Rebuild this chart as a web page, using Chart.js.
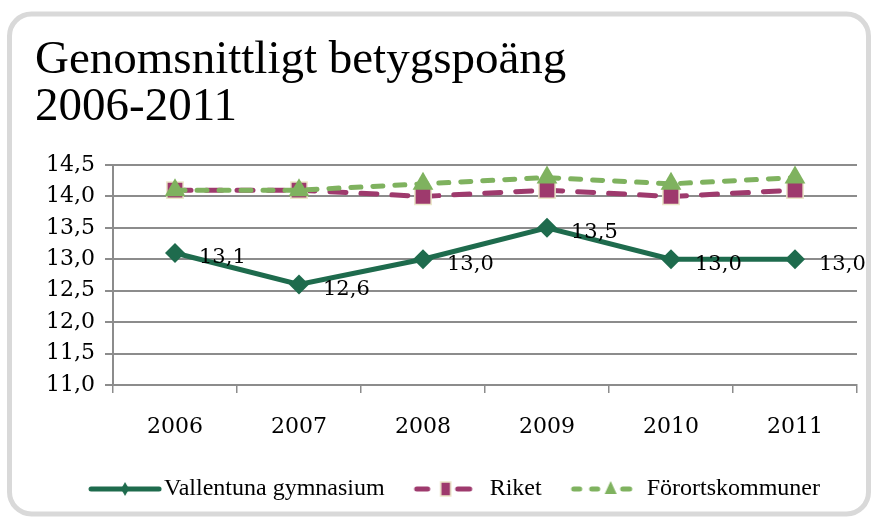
<!DOCTYPE html>
<html>
<head>
<meta charset="utf-8">
<script src="https://cdn.jsdelivr.net/npm/chart.js@4.4.1/dist/chart.umd.min.js"></script>
<style>
  html, body { margin: 0; padding: 0; background: #fff; }
  #wrap { width: 876px; height: 520px; position: relative; }
</style>
</head>
<body>
<div id="wrap"><canvas id="myChart" width="876" height="520"></canvas></div>
<script>
// data
const years = ['2006', '2007', '2008', '2009', '2010', '2011'];
const vallentuna = [13.1, 12.6, 13.0, 13.5, 13.0, 13.0];
const riket = [14.1, 14.1, 14.0, 14.1, 14.0, 14.1];
const fororts = [14.1, 14.1, 14.2, 14.3, 14.2, 14.3];
const seriesNames = ['Vallentuna gymnasium', 'Riket', 'Förortskommuner'];
const titleLines = ['Genomsnittligt betygspoäng', '2006-2011'];

const darkGreen = '#1e6b4d';
const purple = '#9e3a6d';
const lightGreen = '#7fb25f';
const markerEdge = '#ebe8c9';
const serif = "'DejaVu Serif', serif";

const fmt = v => v.toFixed(1).replace('.', ',');

// legend symbol canvases (line + marker); box is 80 wide, canvas 100,
// so x=10 in the canvas is the start of the legend box
function legendSymbol(kind) {
    const c = document.createElement('canvas');
    c.width = 100; c.height = 18;
    const g = c.getContext('2d');
    const cy = 9;
    g.lineCap = 'round';
    g.lineWidth = 5;
    if (kind === 0) {
        g.strokeStyle = darkGreen;
        g.beginPath(); g.moveTo(29, cy); g.lineTo(97, cy); g.stroke();
        g.fillStyle = darkGreen;
        g.beginPath(); g.moveTo(63, cy - 7); g.lineTo(67, cy); g.lineTo(63, cy + 7); g.lineTo(59, cy); g.closePath(); g.fill();
    } else if (kind === 1) {
        g.strokeStyle = purple;
        g.beginPath(); g.moveTo(29, cy); g.lineTo(40, cy); g.stroke();
        g.beginPath(); g.moveTo(70, cy); g.lineTo(82, cy); g.stroke();
        g.fillStyle = purple;
        g.fillRect(53, cy - 7, 10, 14);
        g.strokeStyle = markerEdge; g.lineWidth = 1.5;
        g.strokeRect(53, cy - 7, 10, 14);
    } else {
        g.strokeStyle = lightGreen;
        g.beginPath(); g.moveTo(29, cy); g.lineTo(35, cy); g.stroke();
        g.beginPath(); g.moveTo(47, cy); g.lineTo(53, cy); g.stroke();
        g.beginPath(); g.moveTo(78, cy); g.lineTo(85, cy); g.stroke();
        g.fillStyle = lightGreen;
        g.beginPath(); g.moveTo(66, cy - 8); g.lineTo(72, cy + 5); g.lineTo(60, cy + 5); g.closePath(); g.fill();
    }
    return c;
}
const symbols = [legendSymbol(0), legendSymbol(1), legendSymbol(2)];

// rounded grey frame around the whole chart
const framePlugin = {
    id: 'frame',
    beforeDraw(chart) {
        const ctx = chart.ctx;
        ctx.save();
        ctx.strokeStyle = '#d9d9d9';
        ctx.lineWidth = 5;
        ctx.beginPath();
        ctx.roundRect(9.5, 14, 859, 500, 22);
        ctx.stroke();
        ctx.restore();
    }
};

// value labels for the first series only
const labelPlugin = {
    id: 'valueLabels',
    afterDatasetsDraw(chart) {
        const ctx = chart.ctx;
        const meta = chart.getDatasetMeta(0);
        ctx.save();
        ctx.font = '21px ' + serif;
        ctx.fillStyle = '#000';
        ctx.textAlign = 'left';
        ctx.textBaseline = 'middle';
        meta.data.forEach((pt, i) => {
            ctx.fillText(fmt(vallentuna[i]), pt.x + 24, pt.y + 5);
        });
        ctx.restore();
    }
};

const ctx = document.getElementById('myChart');
new Chart(ctx, {
    type: 'line',
    data: {
        labels: years,
        datasets: [{
            label: seriesNames[0],
            data: vallentuna,
            borderColor: darkGreen,
            backgroundColor: darkGreen,
            borderWidth: 5,
            pointStyle: 'rectRot',
            pointRadius: 10,
            pointBorderWidth: 0,
            order: 0
        }, {
            label: seriesNames[1],
            data: riket,
            borderColor: purple,
            backgroundColor: purple,
            borderWidth: 5,
            borderDash: [16, 15],
            borderCapStyle: 'round',
            pointStyle: 'rect',
            pointRadius: 11.5,
            pointBorderColor: markerEdge,
            pointBorderWidth: 1.5,
            order: 2
        }, {
            label: seriesNames[2],
            data: fororts,
            borderColor: lightGreen,
            backgroundColor: lightGreen,
            borderWidth: 5,
            borderDash: [10, 12],
            borderCapStyle: 'round',
            pointStyle: 'triangle',
            pointRadius: 12,
            pointBorderColor: lightGreen,
            pointBorderWidth: 0,
            order: 1
        }]
    },
    options: {
        responsive: false,
        animation: false,
        layout: { padding: { left: 35, right: 19, top: 0, bottom: 9 } },
        plugins: {
            title: {
                display: true,
                text: titleLines,
                align: 'start',
                color: '#000',
                font: { family: "'Liberation Serif', serif", size: 47, weight: 'normal', lineHeight: 1.0 },
                padding: { top: 37, bottom: 34 }
            },
            legend: {
                position: 'bottom',
                labels: {
                    usePointStyle: true,
                    pointStyleWidth: 80,
                    padding: 13,
                    color: '#000',
                    font: { family: "'Liberation Serif', serif", size: 24 },
                    generateLabels: chart => chart.data.datasets.map((ds, i) => ({
                        text: ds.label,
                        pointStyle: symbols[i],
                        fillStyle: ds.borderColor,
                        strokeStyle: ds.borderColor,
                        lineWidth: 0,
                        hidden: false,
                        datasetIndex: i,
                        fontColor: '#000'
                    }))
                }
            },
            tooltip: { enabled: false }
        },
        scales: {
            x: {
                offset: true,
                grid: { offset: true, drawOnChartArea: false, drawTicks: true, tickLength: 8, color: '#8c8c8c', lineWidth: 1.5 },
                border: { color: '#8c8c8c', width: 2 },
                ticks: { color: '#000', padding: 21, font: { family: serif, size: 22 } },
                afterFit: s => { s.height = 79; }
            },
            y: {
                min: 11,
                max: 14.5,
                grid: { color: '#8c8c8c', lineWidth: 2, tickLength: 8 },
                border: { color: '#8c8c8c', width: 2 },
                ticks: {
                    stepSize: 0.5,
                    color: '#000',
                    padding: 10,
                    font: { family: serif, size: 22 },
                    callback: v => fmt(v)
                },
                afterFit: s => { s.width = 78; }
            }
        }
    },
    plugins: [framePlugin, labelPlugin]
});
</script>
</body>
</html>
